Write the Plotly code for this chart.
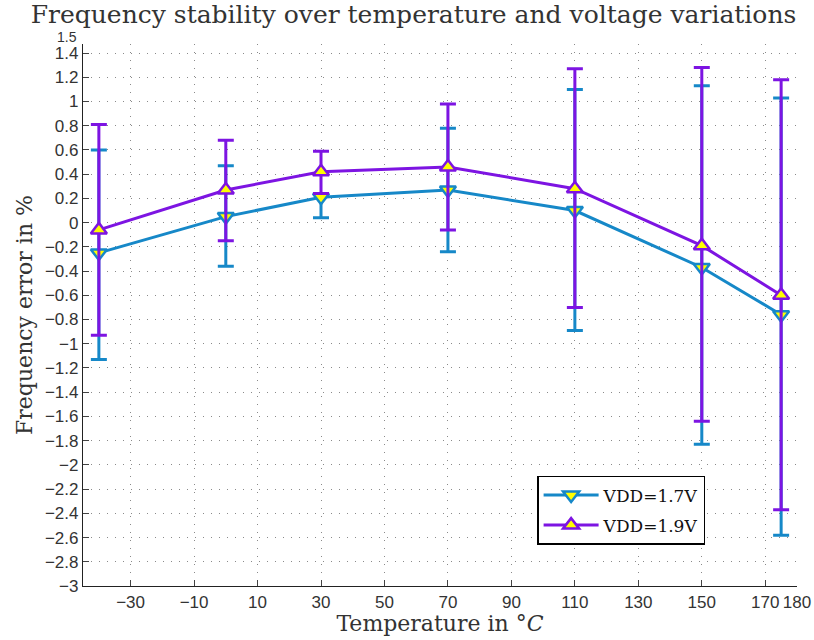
import plotly.graph_objects as go

temps = [-40, 0, 30, 70, 110, 150, 175]

vdd17_mean = [-0.25, 0.05, 0.21, 0.27, 0.10, -0.37, -0.76]
vdd17_high = [0.60, 0.47, 0.24, 0.78, 1.10, 1.13, 1.03]
vdd17_low = [-1.13, -0.36, 0.04, -0.24, -0.89, -1.83, -2.58]

vdd19_mean = [-0.06, 0.27, 0.42, 0.46, 0.28, -0.19, -0.60]
vdd19_high = [0.81, 0.68, 0.59, 0.98, 1.27, 1.28, 1.18]
vdd19_low = [-0.93, -0.15, 0.24, -0.06, -0.70, -1.64, -2.37]

x_ticks = [-30, -10, 10, 30, 50, 70, 90, 110, 130, 150, 170, 180]
y_ticks = [-3, -2.8, -2.6, -2.4, -2.2, -2, -1.8, -1.6, -1.4, -1.2, -1, -0.8, -0.6,
           -0.4, -0.2, 0, 0.2, 0.4, 0.6, 0.8, 1, 1.2, 1.4]
y_ticklabels = ["\u22123", "\u22122.8", "\u22122.6", "\u22122.4", "\u22122.2", "\u22122",
                "\u22121.8", "\u22121.6", "\u22121.4", "\u22121.2", "\u22121", "\u22120.8",
                "\u22120.6", "\u22120.4", "\u22120.2", "0", "0.2", "0.4", "0.6", "0.8",
                "1", "1.2", "1.4"]

BLUE = "#1688C8"
PURPLE = "#7D14E2"

fig = go.Figure()

def add_series(name, mean, high, low, color, symbol):
    plus = [h - m for h, m in zip(high, mean)]
    minus = [m - l for m, l in zip(mean, low)]
    fig.add_trace(go.Scatter(
        x=temps, y=mean, name=name, mode="lines+markers", legendgroup=name,
        line=dict(color=color, width=3),
        marker=dict(symbol=symbol, size=14, color="#FFFF00",
                    line=dict(color=color, width=2.5)),
        error_y=dict(type="data", symmetric=False, array=plus, arrayminus=minus,
                     color=color, thickness=3, width=8),
    ))

add_series("VDD=1.7V", vdd17_mean, vdd17_high, vdd17_low, BLUE, "triangle-down")
add_series("VDD=1.9V", vdd19_mean, vdd19_high, vdd19_low, PURPLE, "triangle-up")

serif = "DejaVu Serif, Liberation Serif, serif"
sans = "Liberation Sans, Arial, sans-serif"
GRID = "#8a8a8a"

fig.update_layout(
    width=814, height=640,
    paper_bgcolor="white", plot_bgcolor="white",
    margin=dict(l=83, r=17, t=44, b=54, autoexpand=False),
    title=dict(text="Frequency stability over temperature and voltage variations",
               x=0.508, xref="container", xanchor="center",
               y=0.978, yref="container", yanchor="middle",
               font=dict(family=serif, size=25, color="#333333")),
    showlegend=True,
    legend=dict(x=0.636, y=0.203, xanchor="left", yanchor="top",
                bgcolor="white", bordercolor="black", borderwidth=1.5,
                font=dict(family=serif, size=17, color="#111111"),
                itemwidth=55, traceorder="grouped", tracegroupgap=5),
    xaxis=dict(range=[-45, 180], tickvals=x_ticks, automargin=False,
               ticktext=["\u221230", "\u221210"] + [str(v) for v in x_ticks[2:]],
               ticks="inside", ticklen=6, tickcolor="#444444",
               showline=True, linecolor="#222222", linewidth=1.2, mirror=False,
               showgrid=True, gridcolor=GRID, griddash="1px,7px", gridwidth=1,
               zeroline=False,
               tickfont=dict(family=sans, size=17, color="#333333"),
               title=dict(text="Temperature in \u00b0<i>C</i>", standoff=5,
                          font=dict(family=serif, size=22, color="#333333"))),
    yaxis=dict(range=[-3, 1.475], tickvals=y_ticks, ticktext=y_ticklabels,
               automargin=False,
               ticks="inside", ticklen=6, tickcolor="#444444",
               showline=True, linecolor="#222222", linewidth=1.2, mirror=False,
               showgrid=True, gridcolor=GRID, griddash="1px,7px", gridwidth=1,
               zeroline=False,
               tickfont=dict(family=sans, size=17, color="#333333"),
               title=dict(text="Frequency error in %", standoff=6,
                          font=dict(family=serif, size=22, color="#333333"))),
)

fig.add_annotation(x=0, xref="paper", xanchor="right", xshift=-4,
                   y=1.006, yref="paper", yanchor="middle", yshift=4, text="1.5",
                   showarrow=False, font=dict(family=sans, size=14, color="#333333"))

fig.write_html("out.html")
